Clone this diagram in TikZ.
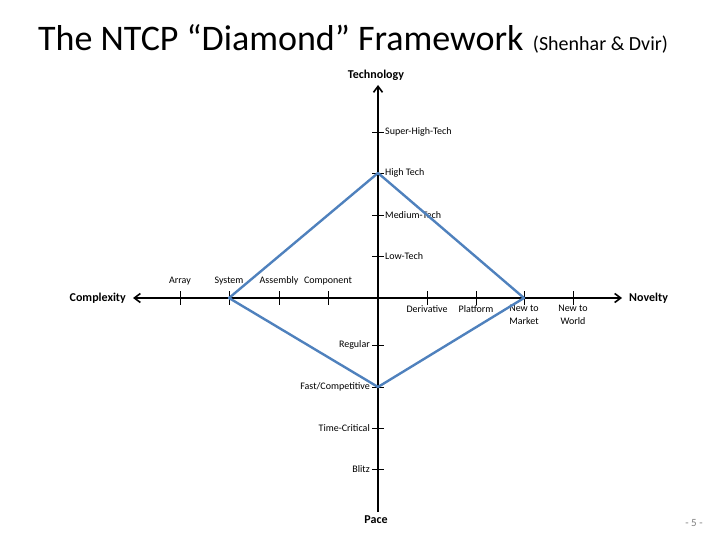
\documentclass[tikz,border=0pt]{standalone}
\usepackage{fontspec}
\setmainfont{Carlito}
\usetikzlibrary{arrows.meta}
\definecolor{dia}{RGB}{79,129,189}
\begin{document}
\begin{tikzpicture}[x=1pt,y=-1pt,
  ax/.style={line width=1.6pt,-{Straight Barb[length=6pt,width=9pt]}},
  tk/.style={line width=0.6pt},
  lb/.style={font=\fontsize{10}{11}\selectfont,inner sep=1pt},
  al/.style={font=\bfseries\fontsize{12}{13}\selectfont,inner sep=1pt}]
\useasboundingbox (0,0) rectangle (720,540);
\node[anchor=west,inner sep=0pt,font=\fontsize{36}{40}\selectfont] (t) at (38,38) {The NTCP “Diamond” Framework};
\node[anchor=base west,inner sep=0pt,font=\fontsize{20}{22}\selectfont] (t2) at ([xshift=9pt]t.base east) {(Shenhar \& Dvir)};
\coordinate (o) at (378,298);
\coordinate (top) at (378,85); \coordinate (bot) at (378,512);
\coordinate (lft) at (133,298); \coordinate (rgt) at (622,298);
\draw[ax] (bot) -- (top);
\draw[ax] (o) -- (lft);
\draw[ax] (o) -- (rgt);
\node[al] (tech) at (376,75) {Technology};
\node[al] (pace) at (376,520) {Pace};
\node[al,anchor=east] (cx) at (127,298) {Complexity};
\node[al,anchor=west] (nv) at (628,298) {Novelty};
\foreach \y/\t in {132/Super-High-Tech,173/High Tech,215/Medium-Tech,256/Low-Tech}{
  \draw[tk] (372,\y) -- (384,\y);
  \node[lb,anchor=west] at (384,\y) {\t};}
\foreach \y/\t in {345/Regular,387/{Fast/Competitive},428/Time-Critical,469/Blitz}{
  \draw[tk] (372,\y) -- (384,\y);
  \node[lb,anchor=east] at (371,\y) {\t};}
\foreach \x/\t in {180/Array,229/System,279/Assembly,328/Component}{
  \draw[tk] (\x,291) -- (\x,305);
  \node[lb] at (\x,281) {\t};}
\foreach \x/\t in {427/Derivative,476/Platform,524/{New to\\Market},573/{New to\\World}}{
  \draw[tk] (\x,291) -- (\x,305);
  \node[lb,anchor=north,align=center,font=\fontsize{10}{13}\selectfont] at (\x,304) {\t};}
\coordinate (d1) at (378,173); \coordinate (d2) at (524,298);
\coordinate (d3) at (378,387); \coordinate (d4) at (229,298);
\draw[dia,line width=2.4pt,line join=round] (d1) -- (d2) -- (d3) -- (d4) -- cycle;
\node[font=\fontsize{11}{12}\selectfont,text=gray] (pg) at (694,523) {- 5 -};
\end{tikzpicture}
\end{document}
